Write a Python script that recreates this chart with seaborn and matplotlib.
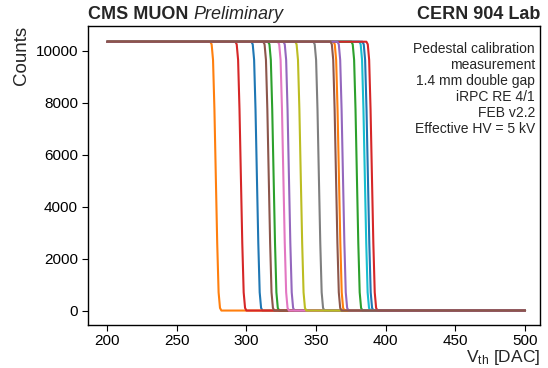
import matplotlib
matplotlib.use("Agg")
import matplotlib.pyplot as plt
import pandas as pd
import seaborn as sns

# ---- data ----
vth_start = 200
vth_end = 500
plateau = 10350
channels = [f"ch{i:02d}" for i in range(16)]
# threshold (50% point) of each channel's pedestal S-curve, in DAC
midpoints = [307.5, 278, 319.5, 296, 330.5, 316, 326.5, 352, 339, 385,
             387.2, 366.4, 379.3, 390.1, 369.3, 364.3]
# common shape of the falling edge (offset from the midpoint, counts)
edge_offsets = [-4, -3, -2, -1, 0, 1, 2, 3, 4]
edge_counts = [10350, 10250, 9650, 7750, 5150, 2600, 700, 100, 0]

rows = []
for ch, m in zip(channels, midpoints):
    rows.append((ch, vth_start, plateau))
    for o, c in zip(edge_offsets, edge_counts):
        rows.append((ch, m + o, c))
    rows.append((ch, vth_end, 0))
df = pd.DataFrame(rows, columns=["channel", "vth", "counts"])

sns.set_style("ticks")
plt.rcParams["font.family"] = ["Liberation Sans", "DejaVu Sans"]
plt.rcParams["mathtext.default"] = "regular"
plt.rcParams["axes.edgecolor"] = "black"
plt.rcParams["xtick.color"] = "black"
plt.rcParams["ytick.color"] = "black"

tab10 = sns.color_palette("tab10", 10)
palette = [tab10[i % 10] for i in range(len(channels))]

fig = plt.figure(figsize=(5.48, 3.68), dpi=100)
ax = fig.add_axes([0.160, 0.118, 0.826, 0.811])
sns.lineplot(data=df, x="vth", y="counts", hue="channel", hue_order=channels,
             palette=palette, estimator=None, legend=False, ax=ax, linewidth=1.5)

ax.set_xlim(186, 511)
ax.set_ylim(-540, 10950)
ax.set_xticks([200, 250, 300, 350, 400, 450, 500])
ax.set_yticks([0, 2000, 4000, 6000, 8000, 10000])
ax.tick_params(labelsize=11, length=4, width=0.8, pad=3)
for s in ax.spines.values():
    s.set_linewidth(1.0)
    s.set_visible(True)

ax.set_xlabel("V$_{th}$ [DAC]", fontsize=12.5, loc="right", labelpad=0)
ax.set_ylabel("Counts", fontsize=13.5, loc="top", labelpad=4)

ax.text(0.988, 0.948,
        "Pedestal calibration\nmeasurement\n1.4 mm double gap\niRPC RE 4/1\nFEB v2.2\nEffective HV = 5 kV",
        transform=ax.transAxes, ha="right", va="top", multialignment="right",
        fontsize=10, linespacing=1.19)

t1 = fig.text(0.1606, 0.948, "CMS MUON ", fontsize=13, fontweight="bold", ha="left", va="baseline")
fig.canvas.draw()
bb = t1.get_window_extent(renderer=fig.canvas.get_renderer())
x_next = bb.x1 / fig.bbox.width
fig.text(x_next, 0.948, "Preliminary", fontsize=13, fontstyle="italic", ha="left", va="baseline")
fig.text(0.986, 0.948, "CERN 904 Lab", fontsize=13, fontweight="bold", ha="right", va="baseline")

fig.savefig("out.png", dpi=100)
